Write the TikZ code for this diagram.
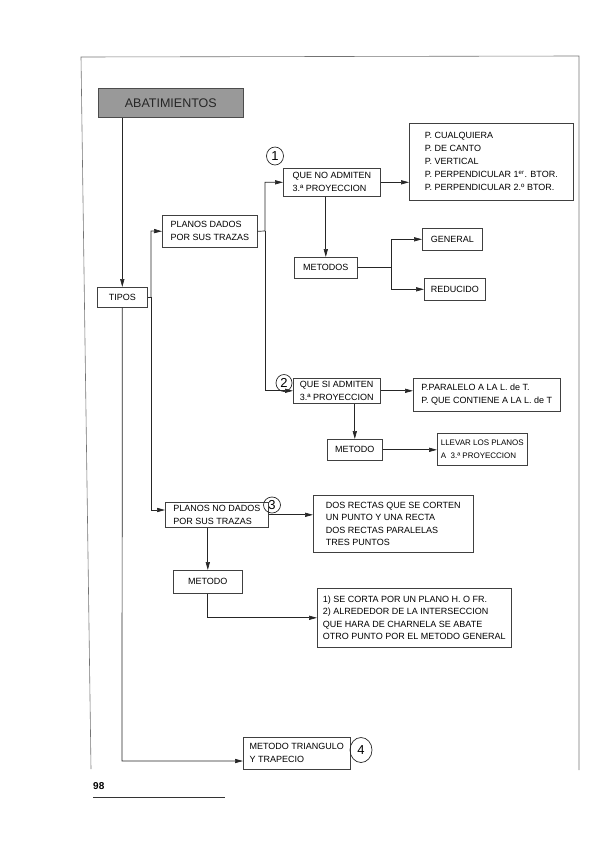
\documentclass[tikz,border=0pt]{standalone}
\usepackage{fontspec}
\setmainfont{Liberation Sans}
\usetikzlibrary{arrows.meta,shapes.geometric}
\begin{document}
\begin{tikzpicture}[x=1pt,y=-1pt,
  box/.style={draw=black!75, line width=0.6pt, anchor=north west, align=left,
    inner sep=2pt, font=\fontsize{9}{13}\selectfont},
  tight/.style={font=\fontsize{9}{12.3}\selectfont},
  small/.style={font=\fontsize{8}{13}\selectfont},
  title/.style={draw=black!70, fill=black!40, line width=0.6pt, anchor=north west,
    font=\fontsize{12.5}{14}\selectfont, text=black!85},
  conn/.style={line width=0.7pt, draw=black!85},
  arr/.style={conn, -{Triangle[length=8pt,width=4.2pt]}},
  num/.style={draw=black!85, line width=0.7pt, ellipse, inner sep=0pt,
    font=\fontsize{13}{13}\selectfont},
  frame/.style={draw=black!55, line width=0.6pt}]
\useasboundingbox (0,0) rectangle (606,848);
% page frame
\coordinate (ftl) at (81,57);
\coordinate (ftr) at (579,56);
\coordinate (fbl) at (91,769);
\coordinate (fbr) at (579,770);
\draw[frame] (fbl) -- (ftl) -- (ftr) -- (fbr);
% nodes
\node[title, minimum width=145, minimum height=29] (abat) at (98,88) {ABATIMIENTOS};
\node[box, minimum width=50, minimum height=20] (tipos) at (97,287) {TIPOS};
\node[box, minimum width=95, minimum height=32] (pdados) at (162,215) {PLANOS DADOS\\POR SUS TRAZAS};
\node[box, minimum width=97, minimum height=28] (qno) at (283,168) {QUE NO ADMITEN\\3.ª PROYECCION};
\node[box, minimum width=164, minimum height=77] (list1) at (409,123) {P. CUALQUIERA\\P. DE CANTO\\P. VERTICAL\\P. PERPENDICULAR 1\textsuperscript{er}. BTOR.\\P. PERPENDICULAR 2.º BTOR.};
\node[box, minimum width=63, minimum height=21] (metodos) at (294,257) {METODOS};
\node[box, minimum width=60, minimum height=22] (general) at (422,228) {GENERAL};
\node[box, minimum width=61, minimum height=22] (reducido) at (424,278) {REDUCIDO};
\node[box, minimum width=87, minimum height=25] (qsi) at (293,378) {QUE SI ADMITEN\\3.ª PROYECCION};
\node[box, minimum width=147, minimum height=33] (list2) at (413,378) {P.PARALELO A LA L. de T.\\P. QUE CONTIENE A LA L. de T};
\node[box, minimum width=55, minimum height=21] (metodoa) at (327,439) {METODO};
\node[box, small, minimum width=90, minimum height=32] (llevar) at (437,433) {LLEVAR LOS PLANOS\\A\ \ 3.ª PROYECCION};
\node[box, minimum width=103, minimum height=25] (pnodados) at (165,502) {PLANOS NO DADOS\\POR SUS TRAZAS};
\node[box, tight, minimum width=160, minimum height=57] (dos) at (313,495) {DOS RECTAS QUE SE CORTEN\\UN PUNTO Y UNA RECTA\\DOS RECTAS PARALELAS\\TRES PUNTOS};
\node[box, minimum width=69, minimum height=23] (metodob) at (173,570) {METODO};
\node[box, tight, minimum width=194, minimum height=59] (caja) at (317,588) {1) SE CORTA POR UN PLANO H. O FR.\\2) ALREDEDOR DE LA INTERSECCION\\QUE HARA DE CHARNELA SE ABATE\\OTRO PUNTO POR EL METODO GENERAL};
\node[box, minimum width=107, minimum height=32] (tri) at (243,737) {METODO TRIANGULO\\Y TRAPECIO};
% circled numbers
\node[num, minimum width=17, minimum height=18] (n1) at (275,156) {1};
\node[num, minimum width=16, minimum height=17] (n2) at (284,383) {2};
\node[num, minimum width=17, minimum height=16] (n3) at (272,505) {3};
\node[num, minimum width=22, minimum height=25] (n4) at (361,750) {4};
% page number
\node[anchor=west, inner sep=0pt, font=\fontsize{10}{10}\selectfont\bfseries] (pg) at (93,786) {98};
\coordinate (ula) at (93,797);
\coordinate (ulb) at (225,797);
\draw[line width=0.7pt, black!80] (ula) -- (ulb);
% coordinates for trunks
\coordinate (trunk) at (151,297);
\coordinate (trunkTop) at (151,231);
\coordinate (trunkBot) at (151,510);
\coordinate (br) at (265,231);
\coordinate (c4) at (122,761);
% connectors
\draw[arr] (tipos.north |- abat.south) -- (tipos.north);
\draw[arr] (tipos.south) -- (c4) -- (tri.west |- c4);
\draw[conn] (tipos.east) -- (tipos.east -| trunk);
\draw[arr] (tipos.east -| trunk) -- (trunkTop) -- (pdados.west);
\draw[arr] (tipos.east -| trunk) -- (trunkBot) -- (pnodados.west |- trunkBot);
\draw[arr] (pdados.east) -- (br) |- (qno.west);
\draw[arr] (br) |- (qsi.west);
\draw[arr] (qno.east) -- (qno.east -| list1.west);
\draw[arr] (metodos.north |- qno.south) -- (metodos.north);
\draw[arr] (metodos.east) -- ++(34,0) |- (general.west);
\draw[arr] (metodos.east) -- ++(34,0) |- (reducido.west);
\draw[arr] (qsi.east) -- (qsi.east -| list2.west);
\draw[arr] (metodoa.north |- qsi.south) -- (metodoa.north);
\draw[arr] (metodoa.east) -- (metodoa.east -| llevar.west);
\draw[arr] (pnodados.east) -- (pnodados.east -| dos.west);
\draw[arr] (metodob.north |- pnodados.south) -- (metodob.north);
\draw[arr] (metodob.south) |- (caja.west);
\end{tikzpicture}
\end{document}
